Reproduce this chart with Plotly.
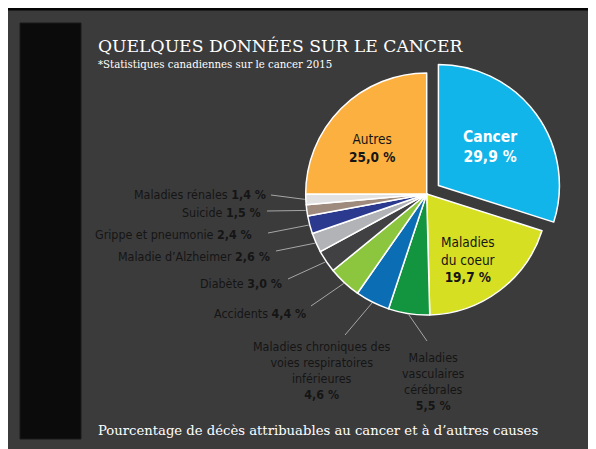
import math
import plotly.graph_objects as go

# The page body keeps an 8px margin, so the figure is drawn 8px in from the window corner.
OFF = 8
FW, FH = 596 - OFF, 449 - OFF

# ---- data ----
categories = ["Cancer", "Maladies du coeur", "Maladies vasculaires cérébrales",
              "Maladies chroniques des voies respiratoires inférieures",
              "Accidents", "Diabète", "Maladie d’Alzheimer", "Grippe et pneumonie",
              "Suicide", "Maladies rénales", "Autres"]
values = [29.9, 19.7, 5.5, 4.6, 4.4, 3.0, 2.6, 2.4, 1.5, 1.4, 25.0]
colors = ["#12b5ea", "#d7df23", "#13943f", "#0b6eb4", "#8cc63f", "#414042",
          "#b1b3b6", "#2b3a8f", "#9f8b7e", "#e2e2e2", "#fbb040"]
pulls = [0.12, 0, 0, 0, 0, 0, 0, 0, 0, 0, 0]

title_text = "QUELQUES DONNÉES SUR LE CANCER"
subtitle_text = "*Statistiques canadiennes sur le cancer 2015"
caption_text = "Pourcentage de décès attribuables au cancer et à d’autres causes"


def fmt(v):
    return f"{v:.1f}".replace(".", ",") + " %"


def px(x):
    return (x - OFF) / FW


def py(y):
    return 1 - (y - OFF) / FH


# pie geometry (layout, window pixels)
CX, CY, R = 426.7, 194.0, 121.0
maxpull = max(pulls)
half = R * (1 + maxpull)

LABEL_FONT = "Liberation Sans Narrow, DejaVu Sans Condensed, Arial Narrow, sans-serif"
SERIF = "DejaVu Serif, Liberation Serif, serif"
DARK = "#151515"
LINE = "#a6a6a6"
OUT_SIZE = 12.4

fig = go.Figure()
fig.add_trace(go.Pie(
    labels=categories, values=values, sort=False, direction="clockwise",
    rotation=0, pull=pulls, textinfo="none", hoverinfo="label+value",
    marker=dict(colors=colors, line=dict(color="white", width=1.5)),
    domain=dict(x=[px(CX - half), px(CX + half)], y=[py(CY + half), py(CY - half)]),
    showlegend=False,
))

shapes = []
# slide background + frame
shapes.append(dict(type="rect", xref="paper", yref="paper", x0=px(2), x1=px(595), y0=py(460), y1=py(9),
                   fillcolor="#3b3b3b", line=dict(color="#050505", width=3), layer="below"))
shapes.append(dict(type="rect", xref="paper", yref="paper", x0=px(20), x1=px(81), y0=py(439), y1=py(23),
                   fillcolor="#0b0b0b", line=dict(color="#1a1a1a", width=1), layer="below"))


def note(text, x, y, size, color, family, xanchor="center", align="center"):
    return dict(text=text, x=px(x), y=py(y), xref="paper", yref="paper",
                xanchor=xanchor, yanchor="middle", showarrow=False, align=align,
                font=dict(family=family, size=size, color=color))


annotations = [
    note(title_text, 96, 46, 17.2, "white", SERIF, xanchor="left", align="left"),
    note(subtitle_text, 96, 64, 10.2, "white", SERIF, xanchor="left", align="left"),
    note(caption_text, 96, 430, 13.2, "white", SERIF, xanchor="left", align="left"),
]

# slice mid angles (clockwise from top), from data
total = sum(values)
mids = []
acc = 0.0
for v in values:
    mids.append((acc + v / 2) / total * 360.0)
    acc += v


def edge_point(i, extra=1.0):
    a = math.radians(mids[i])
    return CX + (R + extra) * math.sin(a), CY - (R + extra) * math.cos(a)


# inside labels
annotations.append(note(f"<b>{categories[0]}<br>{fmt(values[0])}</b>", 490, 147, 15.5, "white", LABEL_FONT))
annotations.append(note(f"Maladies<br>du coeur<br><b>{fmt(values[1])}</b>", 468, 259, 13.5, DARK, LABEL_FONT))
annotations.append(note(f"{categories[10]}<br><b>{fmt(values[10])}</b>", 372, 148, 13.5, DARK, LABEL_FONT))

# outside labels: index -> (text right x, text y, line start x, line start y)
outside = {
    9: (268, 195, 271, 195),
    8: (263, 212, 267, 211),
    7: (254, 234, 268, 233),
    6: (272, 256, 276, 251),
    5: (284, 283, 288, 279),
    4: (308, 313, 311, 306),
}
for i, (tx, ty, lx, ly) in outside.items():
    annotations.append(note(f"{categories[i]} <b>{fmt(values[i])}</b>", tx, ty, OUT_SIZE, DARK, LABEL_FONT,
                            xanchor="right", align="right"))
    ex, ey = edge_point(i)
    shapes.append(dict(type="line", xref="paper", yref="paper", x0=px(lx), y0=py(ly), x1=px(ex), y1=py(ey),
                       line=dict(color=LINE, width=1)))

annotations.append(note(f"Maladies chroniques des<br>voies respiratoires<br>inférieures<br><b>{fmt(values[3])}</b>",
                        322, 370, OUT_SIZE, DARK, LABEL_FONT))
ex, ey = edge_point(3)
shapes.append(dict(type="line", xref="paper", yref="paper", x0=px(345), y0=py(335), x1=px(ex), y1=py(ey),
                   line=dict(color=LINE, width=1)))
annotations.append(note(f"Maladies<br>vasculaires<br>cérébrales<br><b>{fmt(values[2])}</b>",
                        433, 381, OUT_SIZE, DARK, LABEL_FONT))
ex, ey = edge_point(2)
shapes.append(dict(type="line", xref="paper", yref="paper", x0=px(427), y0=py(341), x1=px(ex), y1=py(ey),
                   line=dict(color=LINE, width=1)))

fig.update_layout(
    width=FW, height=FH, margin=dict(l=0, r=0, t=0, b=0),
    paper_bgcolor="white", plot_bgcolor="white",
    shapes=shapes, annotations=annotations,
)

fig.write_html("out.html")
